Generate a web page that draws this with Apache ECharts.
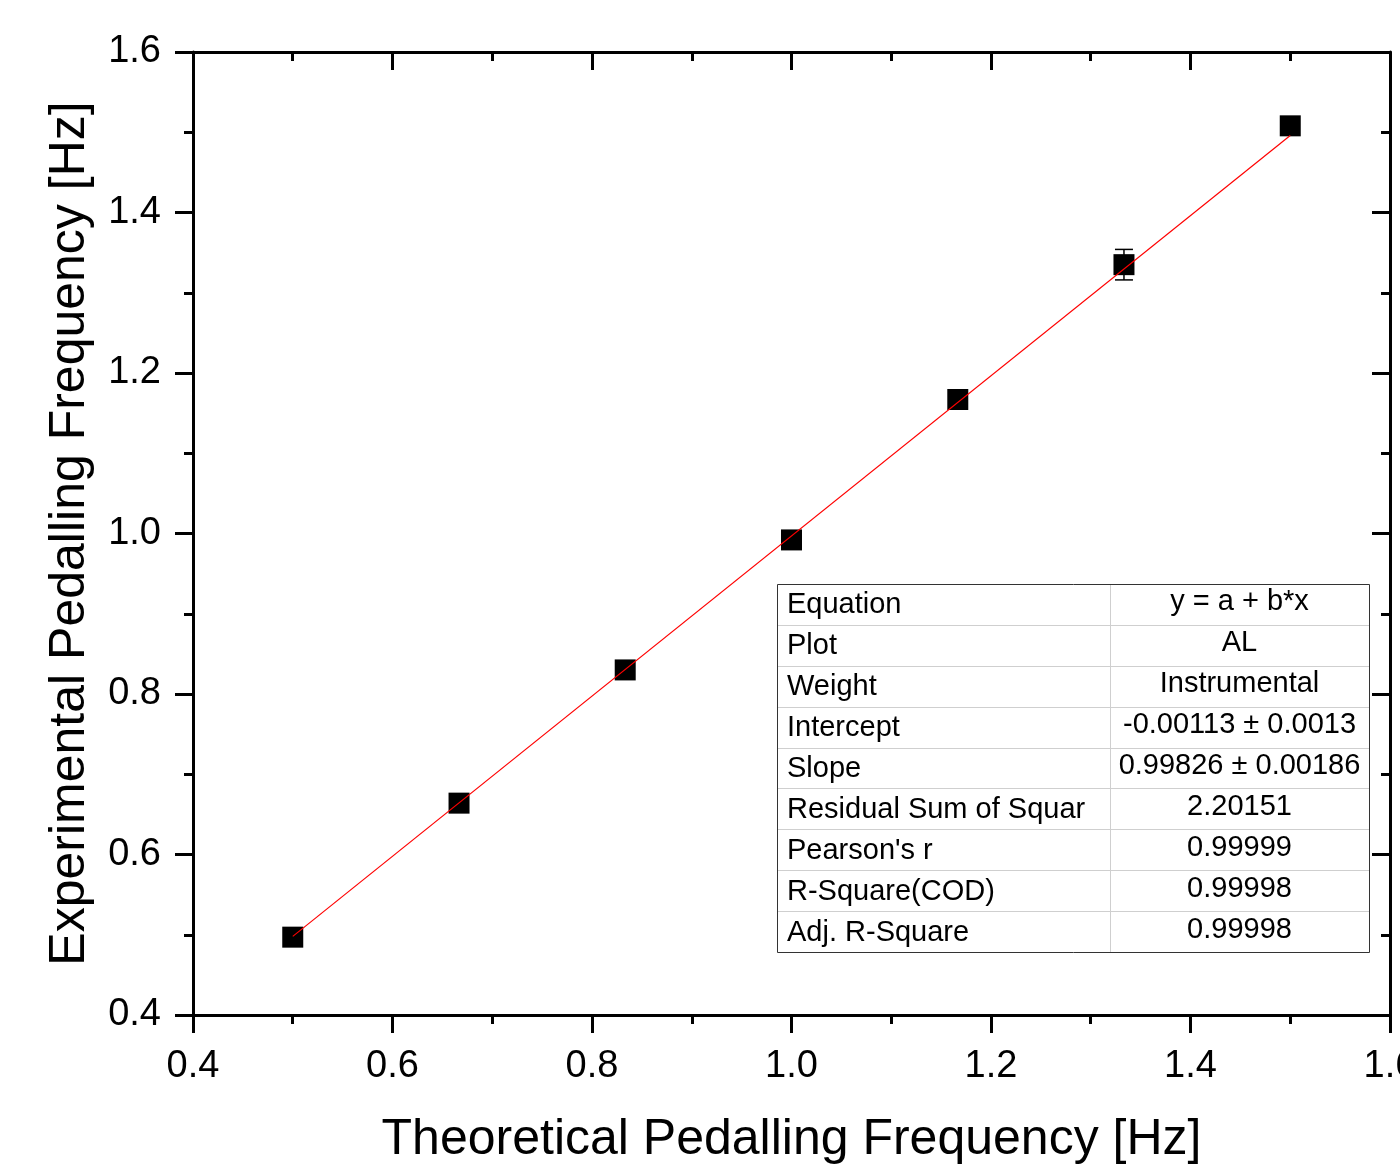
<!DOCTYPE html>
<html>
<head>
<meta charset="utf-8">
<script src="https://cdn.jsdelivr.net/npm/echarts@6/dist/echarts.min.js"></script>
<style>
html,body{margin:0;padding:0;background:#fff;}
#chart{width:1400px;height:1176px;}
</style>
</head>
<body>
<div id="chart"></div>
<script>
// ---- data ----
var xTheoretical = [0.5, 0.6667, 0.8333, 1.0, 1.1667, 1.3333, 1.5];
var yExperimental = [0.497, 0.664, 0.830, 0.992, 1.167, 1.335, 1.508];
var yError = [0, 0, 0, 0, 0, 0.019, 0];
var fitLine = [[0.5, 0.498], [1.5, 1.496]];
var tableLabels = ['Equation', 'Plot', 'Weight', 'Intercept', 'Slope', 'Residual Sum of Squar', "Pearson's r", 'R-Square(COD)', 'Adj. R-Square'];
var tableValues = ['y = a + b*x', 'AL', 'Instrumental', '-0.00113 \u00b1 0.0013', '0.99826 \u00b1 0.00186', '2.20151', '0.99999', '0.99998', '0.99998'];
var xTitle = 'Theoretical Pedalling Frequency [Hz]';
var yTitle = 'Experimental Pedalling Frequency [Hz]';

// ---- chart ----
var FONT = 'Liberation Sans, Arial, sans-serif';
var chart = echarts.init(document.getElementById('chart'), null, {renderer: 'canvas'});

var points = xTheoretical.map(function (x, i) { return [x, yExperimental[i]]; });
var errData = xTheoretical.map(function (x, i) { return [x, yExperimental[i], yError[i]]; });

// table graphic
var tX = 777, tY = 584, tW = 592, tH = 368, colX = 1110;
var rowH = tH / tableLabels.length;
var graphics = [];
graphics.push({type: 'rect', shape: {x: tX, y: tY, width: tW, height: tH}, style: {fill: '#fff', stroke: 'none'}, z: 100});
for (var i = 1; i < tableLabels.length; i++) {
  var yy = Math.round(tY + rowH * i) + 0.5;
  graphics.push({type: 'line', shape: {x1: tX, y1: yy, x2: tX + tW, y2: yy}, style: {stroke: '#cfcfcf', lineWidth: 1}, z: 101});
}
graphics.push({type: 'line', shape: {x1: colX + 0.5, y1: tY, x2: colX + 0.5, y2: tY + tH}, style: {stroke: '#cfcfcf', lineWidth: 1}, z: 101});
graphics.push({type: 'rect', shape: {x: tX + 0.5, y: tY + 0.5, width: tW, height: tH}, style: {fill: 'none', stroke: '#333', lineWidth: 1}, z: 102});
tableLabels.forEach(function (lab, i) {
  var cy = tY + rowH * (i + 0.5);
  graphics.push({type: 'text', x: tX + 10, y: cy + 1, style: {text: lab, fill: '#000', font: '29px ' + FONT, textAlign: 'left', textVerticalAlign: 'middle'}, z: 103});
  graphics.push({type: 'text', x: (colX + tX + tW) / 2, y: cy - 2, style: {text: tableValues[i], fill: '#000', font: '29px ' + FONT, textAlign: 'center', textVerticalAlign: 'middle'}, z: 103});
});

var axisCommon = {
  type: 'value', min: 0.4, max: 1.6, interval: 0.2,
  axisLine: {show: true, onZero: false, lineStyle: {color: '#000', width: 3}},
  splitLine: {show: false},
  minorTick: {show: true, splitNumber: 2, length: 9, lineStyle: {color: '#000', width: 3}}
};

var option = {
  animation: false,
  backgroundColor: '#fff',
  grid: {left: 193, right: 10, top: 52, bottom: 161, containLabel: false, outerBoundsMode: 'none'},
  xAxis: [
    Object.assign({}, axisCommon, {
      position: 'bottom',
      name: xTitle, nameLocation: 'middle', nameGap: 100,
      nameTextStyle: {fontSize: 50, fontFamily: FONT, color: '#000'},
      axisTick: {show: true, inside: false, length: 18, lineStyle: {color: '#000', width: 3}},
      axisLabel: {show: true, margin: 33, fontSize: 38, fontFamily: FONT, color: '#000',
        formatter: function (v) { return v.toFixed(1); }}
    }),
    Object.assign({}, axisCommon, {
      position: 'top',
      axisTick: {show: true, inside: true, length: 18, lineStyle: {color: '#000', width: 3}},
      axisLabel: {show: false}
    })
  ],
  yAxis: [
    Object.assign({}, axisCommon, {
      position: 'left',
      name: yTitle, nameLocation: 'middle', nameGap: 98,
      nameTextStyle: {fontSize: 50, fontFamily: FONT, color: '#000'},
      axisTick: {show: true, inside: false, length: 18, lineStyle: {color: '#000', width: 3}},
      axisLabel: {show: true, margin: 32, fontSize: 38, fontFamily: FONT, color: '#000',
        formatter: function (v) { return v.toFixed(1); }}
    }),
    Object.assign({}, axisCommon, {
      position: 'right',
      axisTick: {show: true, inside: true, length: 18, lineStyle: {color: '#000', width: 3}},
      axisLabel: {show: false}
    })
  ],
  series: [
    {
      type: 'custom',
      xAxisIndex: 0, yAxisIndex: 0,
      data: errData,
      z: 3,
      renderItem: function (params, api) {
        var err = api.value(2);
        if (!err) return null;
        var x = api.value(0), y = api.value(1);
        var top = api.coord([x, y + err]);
        var bot = api.coord([x, y - err]);
        var hw = 9;
        var st = {stroke: '#000', lineWidth: 1.5};
        return {type: 'group', children: [
          {type: 'line', shape: {x1: top[0], y1: top[1], x2: bot[0], y2: bot[1]}, style: st},
          {type: 'line', shape: {x1: top[0] - hw, y1: top[1], x2: top[0] + hw, y2: top[1]}, style: st},
          {type: 'line', shape: {x1: bot[0] - hw, y1: bot[1], x2: bot[0] + hw, y2: bot[1]}, style: st}
        ]};
      }
    },
    {
      type: 'scatter',
      xAxisIndex: 0, yAxisIndex: 0,
      data: points,
      symbol: 'rect', symbolSize: 21,
      itemStyle: {color: '#000', opacity: 1},
      emphasis: {disabled: true},
      z: 4
    },
    {
      type: 'line',
      xAxisIndex: 0, yAxisIndex: 0,
      data: fitLine,
      symbol: 'none',
      lineStyle: {color: '#ff0000', width: 1.2},
      z: 5
    }
  ],
  graphic: graphics
};
chart.setOption(option);
</script>
</body>
</html>
